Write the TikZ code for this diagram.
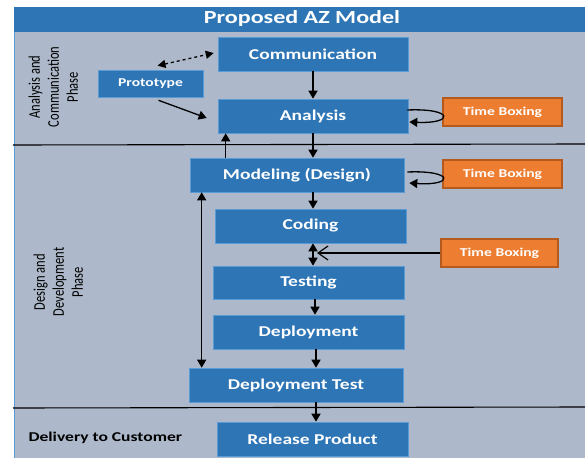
\documentclass[tikz,border=0pt]{standalone}
\usepackage{fontspec}
\usetikzlibrary{arrows.meta,calc}
\newfontfamily\wf{Carlito}[FakeStretch=1.3]
\newfontfamily\lf{Carlito}
\definecolor{panel}{HTML}{ADB9CA}
\definecolor{boxblue}{HTML}{2E75B6}
\definecolor{boxedge}{HTML}{5B9BD5}
\definecolor{orng}{HTML}{ED7D31}
\definecolor{orngedge}{HTML}{B55A1E}
\tikzset{
  bluebox/.style={fill=boxblue,draw=boxedge,line width=0.6pt,inner sep=0pt,text=white,
    font=\wf\bfseries\fontsize{15}{18}\selectfont},
  tbox/.style={fill=orng,draw=orngedge,line width=1.2pt,inner sep=0pt,text=white,
    minimum width=119pt,minimum height=28pt,font=\wf\bfseries\fontsize{12}{14}\selectfont},
  arr/.style={line width=1.5pt,-{Triangle[length=8pt,width=9pt]}},
  darr/.style={line width=1.5pt,{Triangle[length=8pt,width=9pt]}-{Triangle[length=8pt,width=9pt]}},
  sep/.style={line width=1.1pt,black},
  phase/.style={rotate=90,inner sep=0pt,font=\lf\fontsize{12.5}{14.6}\selectfont}
}
\newcommand{\phasetext}[1]{\scalebox{1}[1.3]{\begin{tabular}{@{}c@{}}#1\end{tabular}}}
\begin{document}
\begin{tikzpicture}[x=1pt,y=-1pt]
\useasboundingbox (0,0) rectangle (585,457);
% panel and title bar
\path[fill=panel,draw=boxedge,line width=0.8pt] (14,7) rectangle (586,458);
\node[fill=boxblue,minimum width=571pt,minimum height=25pt,inner sep=0pt,anchor=north west] (title) at (14,7) {};
\node[text=white,font=\wf\bfseries\fontsize{18.5}{20}\selectfont] (titletext) at (302,18) {Proposed AZ Model};
% separators
\coordinate (s1a) at (13,145); \coordinate (s1b) at (585,144);
\coordinate (s2a) at (13,408); \coordinate (s2b) at (585,407);
\draw[sep] (s1a) -- (s1b);
\draw[sep] (s2a) -- (s2b);
% boxes
\node[bluebox,minimum width=190pt,minimum height=34pt] (comm) at (313,54) {Communication};
\node[bluebox,minimum width=105pt,minimum height=27pt,font=\wf\bfseries\fontsize{12}{14}\selectfont] (proto) at (150.5,83.5) {Prototype};
\node[bluebox,minimum width=190pt,minimum height=34pt] (ana) at (313,116) {Analysis};
\node[bluebox,minimum width=214pt,minimum height=34pt] (mod) at (297,175) {Modeling (Design)};
\node[bluebox,minimum width=191pt,minimum height=34pt] (cod) at (310.5,226) {Coding};
\node[bluebox,minimum width=191pt,minimum height=33pt] (tst) at (308.5,282.5) {Testing};
\node[bluebox,minimum width=191pt,minimum height=34pt] (dep) at (308.5,332) {Deployment};
\node[bluebox,minimum width=214pt,minimum height=34pt] (dt) at (296,385) {Deployment Test};
\node[bluebox,minimum width=191pt,minimum height=34pt] (rel) at (312.5,439) {Release Product};
\node[tbox] (tb1) at (502.5,112) {Time Boxing};
\node[tbox] (tb2) at (502.5,174) {Time Boxing};
\node[tbox,minimum width=117pt] (tb3) at (499.5,253) {Time Boxing};
% phase labels
\node[phase] (ph1) at (55,87) {\phasetext{Analysis and\\Communication\\Phase}};
\node[phase] (ph2) at (60,282) {\phasetext{Design and\\Development\\Phase}};
\node[anchor=west,font=\wf\bfseries\fontsize{13.5}{15}\selectfont] (deliv) at (25,437.5) {Delivery to Customer};
% arrows
\draw[arr] (ana.north |- comm.south) -- (ana.north);
\draw[arr] (ana.south) -- (ana.south |- mod.north);
\draw[arr] ([xshift=36pt]mod.north west) -- ([xshift=36pt]mod.north west |- ana.south);
\draw[arr] (ana.south |- mod.south) -- (ana.south |- cod.north);
\draw[darr] (ana.south |- cod.south) -- (ana.south |- tst.north);
\draw[arr] ([xshift=2pt]ana.south |- tst.south) -- ([xshift=2pt]ana.south |- dep.north);
\draw[arr] ([xshift=3pt]ana.south |- dep.south) -- ([xshift=3pt]ana.south |- dt.north);
\draw[arr] ([xshift=3pt]ana.south |- dt.south) -- ([xshift=3pt]ana.south |- rel.north);
\draw[darr] ([xshift=12pt]mod.south west) -- ([xshift=12pt]mod.south west |- dt.north);
\coordinate (tbhit) at ([xshift=4pt]ana.south |- tb3.west);
\draw[line width=1.2pt,-{Straight Barb[length=10pt,width=14pt,line width=1.2pt]}] (tb3.west) -- (tbhit);
% dashed link prototype - communication
\draw[line width=1.3pt,dashed,{Triangle[length=8pt,width=8pt]}-{Triangle[length=8pt,width=8pt]}]
  ([xshift=7pt,yshift=4pt]proto.north) -- ([xshift=-4pt,yshift=1pt]comm.west);
\draw[arr,line width=1.3pt] ([xshift=8pt,yshift=-3pt]proto.south) -- ([xshift=-11pt,yshift=-2pt]ana.west);
% self loops
\draw[line width=1.3pt,-{Triangle[length=8pt,width=9pt]}]
  ([xshift=-1pt,yshift=6pt]ana.east) .. controls ([xshift=46pt,yshift=8pt]ana.east) and ([xshift=46pt,yshift=-8pt]ana.east) .. ([xshift=1pt,yshift=-6pt]ana.east);
\draw[line width=1.3pt,-{Triangle[length=8pt,width=9pt]}]
  ([xshift=3pt,yshift=3pt]mod.east) .. controls ([xshift=50pt,yshift=5pt]mod.east) and ([xshift=50pt,yshift=-11pt]mod.east) .. ([xshift=5pt,yshift=-8pt]mod.east);
\end{tikzpicture}
\end{document}
